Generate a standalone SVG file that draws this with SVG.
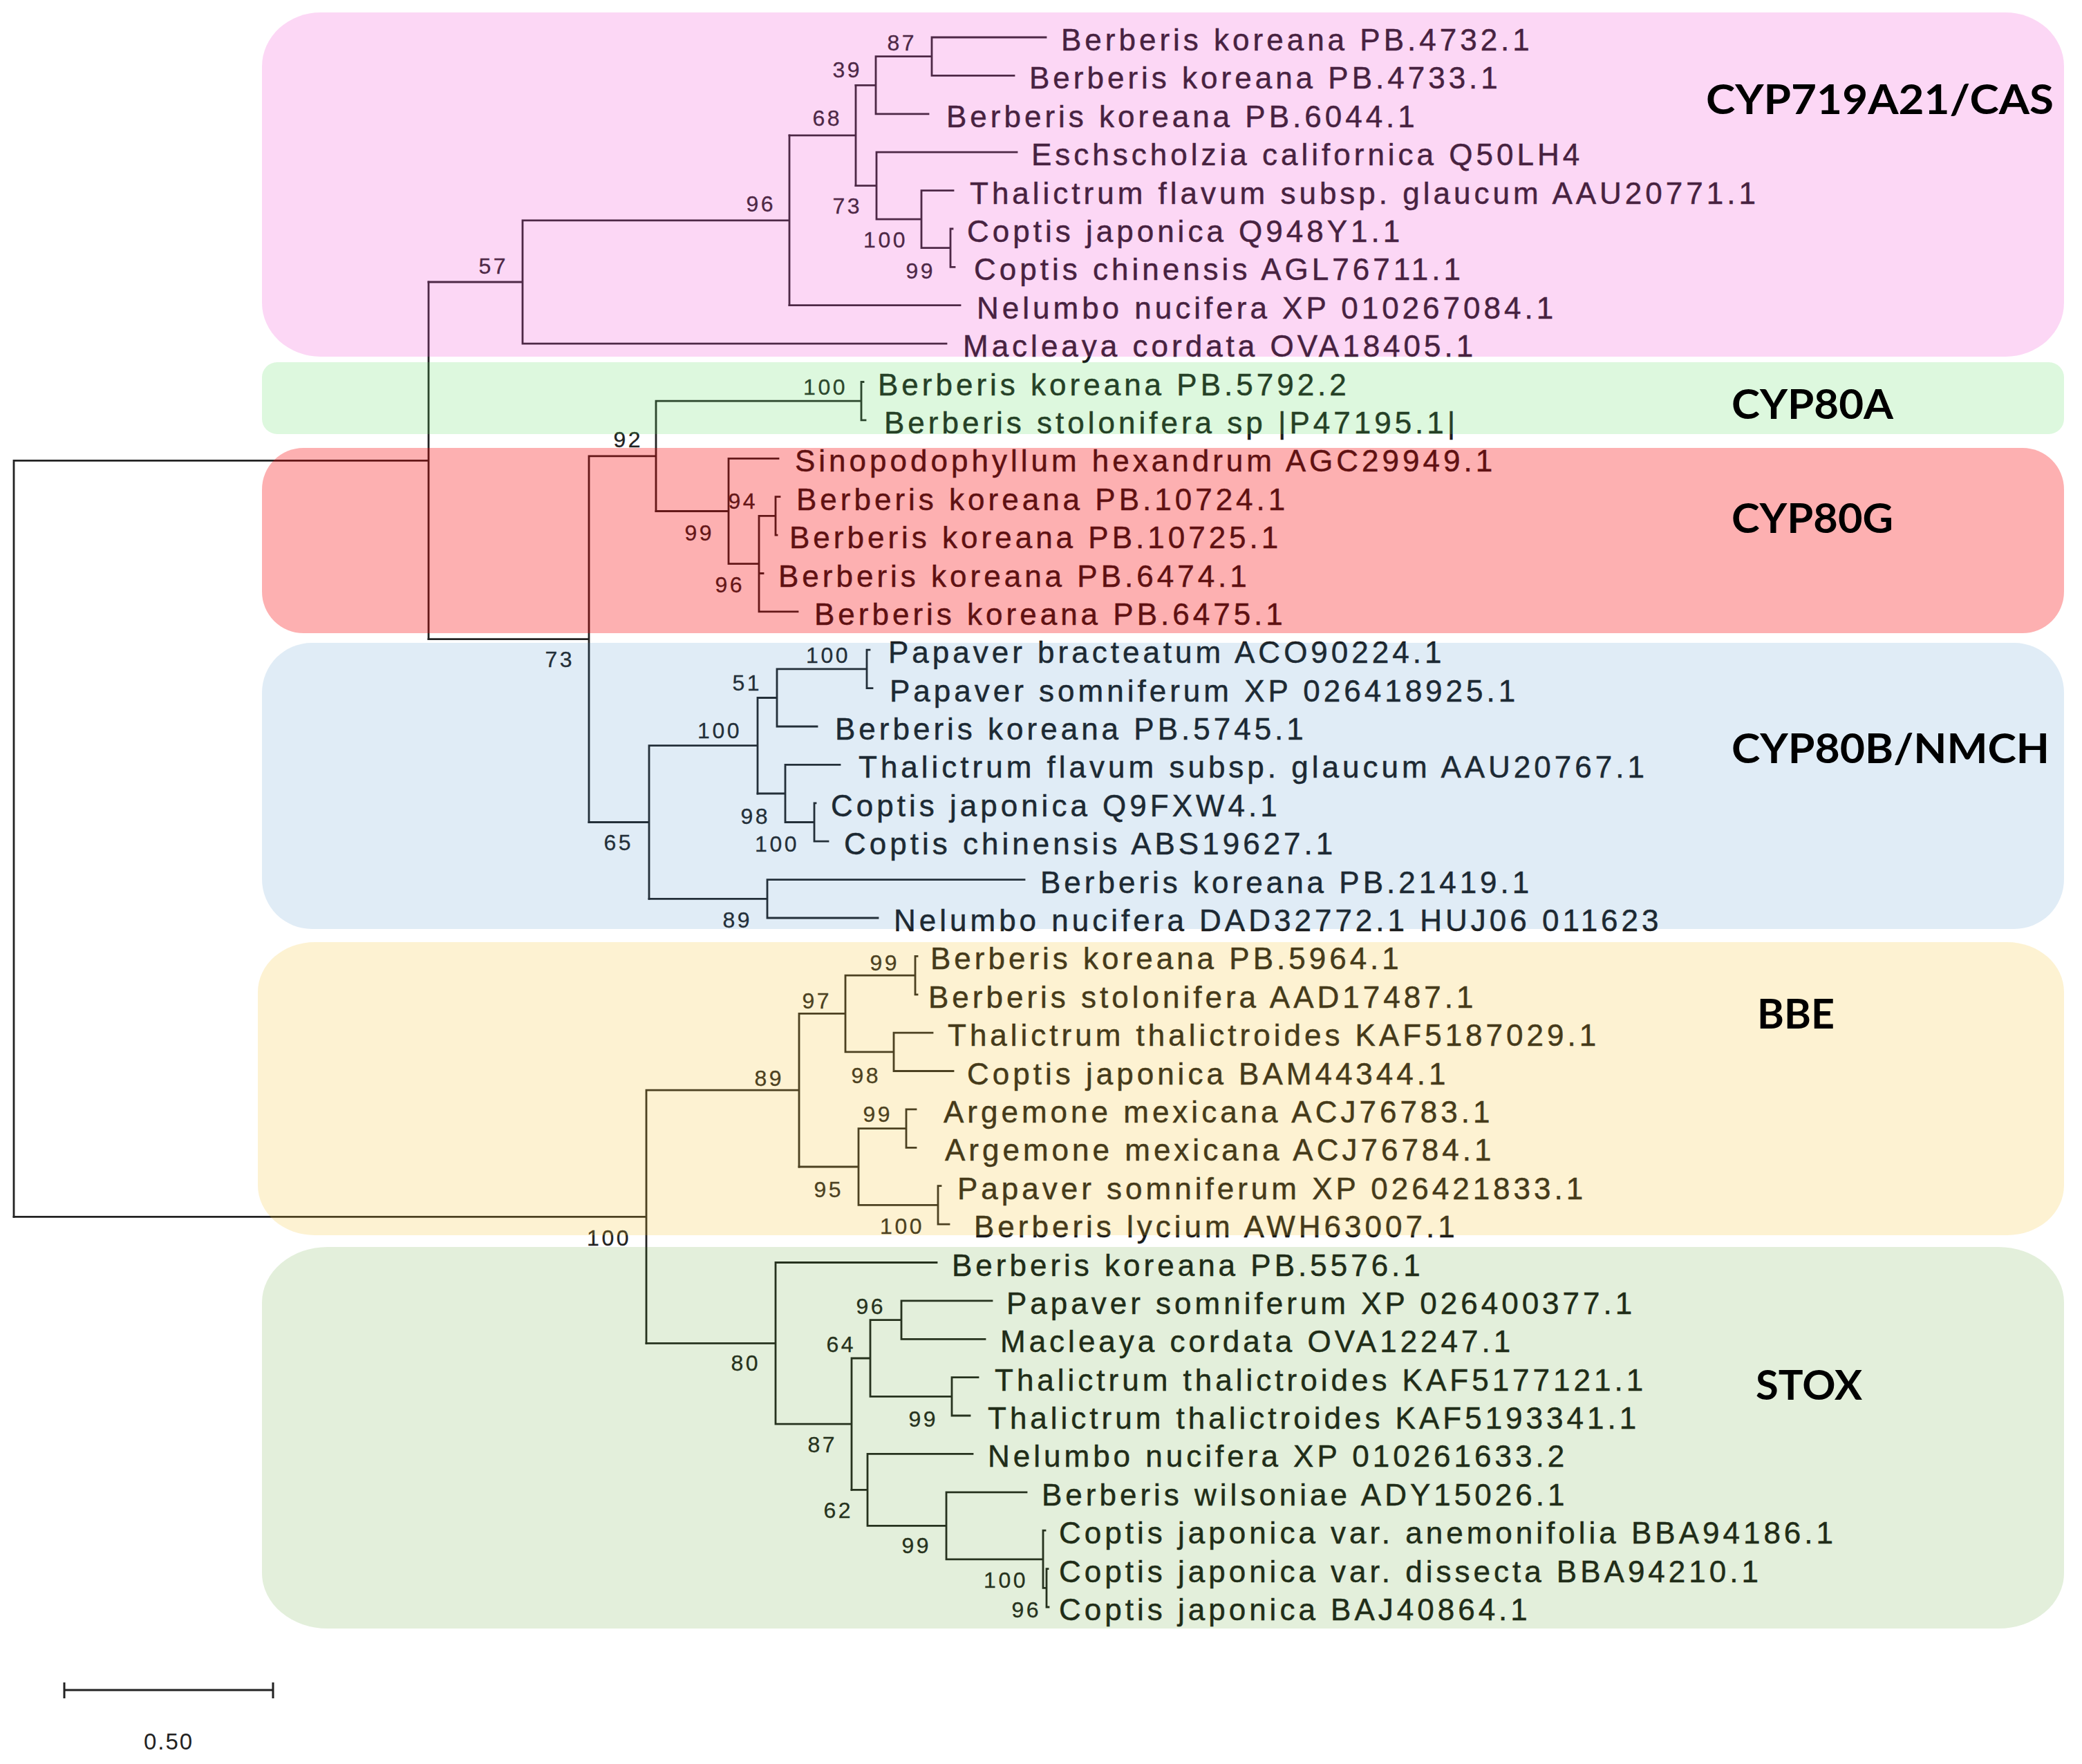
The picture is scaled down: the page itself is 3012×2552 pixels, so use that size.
<svg xmlns="http://www.w3.org/2000/svg" width="3012" height="2552" viewBox="0 0 3012 2552">
<style>
.br{fill:none;stroke:#222;stroke-width:2.8;stroke-linecap:square}
.tx{font-family:"Liberation Sans",Arial,sans-serif;font-size:44px;letter-spacing:5px;fill:#1a1a1a;stroke:#1a1a1a;stroke-width:0.5}
.bs{font-family:"Liberation Sans",Arial,sans-serif;font-size:32px;letter-spacing:3.5px;fill:#222;text-anchor:end;stroke:#222;stroke-width:0.3}
.grp{font-family:Lato,"Liberation Sans",sans-serif;font-weight:700;font-size:60px;fill:#000}
.cas{fill:rgb(241,65,207);fill-opacity:0.21}
.c80a{fill:rgb(85,220,90);fill-opacity:0.2}
.c80g{fill:rgb(250,0,3);fill-opacity:0.31}
.c80b{fill:rgb(48,128,195);fill-opacity:0.15}
.bbe{fill:rgb(245,190,30);fill-opacity:0.2}
.stox{fill:rgb(68,148,15);fill-opacity:0.15}
.sc{fill:none;stroke:#222;stroke-width:3}
.sct{font-family:"Liberation Sans",Arial,sans-serif;font-size:33px;letter-spacing:2px;fill:#222;text-anchor:middle}
</style>
<rect width="3012" height="2552" fill="#fff"/>
<g id="connectors" class="br">
<path d="M20 666.3V1760.3M20 666.3H620M620 408V924.6"/>
<path d="M620 408H756M756 318.8V497.1M756 318.8H1142M1142 195.8V441.7M756 497.1H1369"/>
<path d="M1142 195.8H1238M1238 123.3V268.6M1142 441.7H1389"/>
<path d="M1238 123.3H1267M1267 81.7V164.8M1267 81.7H1348M1348 54V109.4M1348 54H1513M1348 109.4H1467M1267 164.8H1343"/>
<path d="M1238 268.6H1268M1268 220.2V317.2M1268 220.2H1471M1268 317.2H1333M1333 275.6V358.7M1333 275.6H1379M1333 358.7H1375M1375 331V386.3M1375 331H1378M1375 386.3H1381"/>
<path d="M620 924.6H852M852 659.8V1189.5M852 659.8H949M949 580.2V739.5M949 580.2H1246M1246 552.5V607.9M1246 552.5H1249M1246 607.9H1252"/>
<path d="M949 739.5H1054M1054 663.3V815.6M1054 663.3H1126M1054 815.6H1098M1098 746.4V884.9M1098 746.4H1122M1122 718.7V774.1M1122 718.7H1128M1122 774.1H1124M1098 829.5H1104M1098 884.9H1154"/>
<path d="M852 1189.5H939M939 1078.7V1300.3M939 1078.7H1096M1096 1009.5V1148M1096 1009.5H1124M1124 967.9V1051M1124 967.9H1254M1254 940.2V995.6M1254 940.2H1258M1254 995.6H1262M1124 1051H1182"/>
<path d="M1096 1148H1136M1136 1106.4V1189.5M1136 1106.4H1215M1136 1189.5H1178M1178 1161.8V1217.2M1178 1161.8H1180M1178 1217.2H1198"/>
<path d="M939 1300.3H1110M1110 1272.6V1328M1110 1272.6H1482M1110 1328H1270"/>
<path d="M20 1760.3H935M935 1577.2V1943.4M935 1577.2H1156M1156 1466.4V1688M1156 1466.4H1223M1223 1411.1V1521.8M1223 1411.1H1324M1324 1383.4V1438.8M1324 1383.4H1327M1324 1438.8H1327M1223 1521.8H1293M1293 1494.1V1549.5M1293 1494.1H1349M1293 1549.5H1379"/>
<path d="M1156 1688H1242M1242 1632.6V1743.4M1242 1632.6H1311M1311 1604.9V1660.3M1311 1604.9H1325M1311 1660.3H1325M1242 1743.4H1357M1357 1715.7V1771.1M1357 1715.7H1361M1357 1771.1H1373"/>
<path d="M935 1943.4H1122M1122 1826.5V2060.2M1122 1826.5H1355M1122 2060.2H1232M1232 1965V2155.4M1232 1965H1259M1259 1909.6V2020.4M1259 1909.6H1304M1304 1881.9V1937.3M1304 1881.9H1435M1304 1937.3H1425M1259 2020.4H1377M1377 1992.7V2048M1377 1992.7H1415M1377 2048H1403"/>
<path d="M1232 2155.4H1255M1255 2103.4V2207.3M1255 2103.4H1407M1255 2207.3H1369M1369 2158.8V2255.8M1369 2158.8H1485M1369 2255.8H1509M1509 2214.2V2297.3M1509 2214.2H1512M1509 2297.3H1514M1514 2269.6V2325M1514 2269.6H1516M1514 2325H1517"/>
</g>
<g id="taxa" class="tx">
<g id="leaf-01"><text x="1535" y="73">Berberis koreana PB.4732.1</text></g>
<g id="leaf-02"><text x="1489" y="128.4">Berberis koreana PB.4733.1</text></g>
<g id="leaf-03"><text x="1369" y="183.8">Berberis koreana PB.6044.1</text></g>
<g id="leaf-04"><text x="1492" y="239.2">Eschscholzia californica Q50LH4</text></g>
<g id="leaf-05"><text x="1403" y="294.6">Thalictrum flavum subsp. glaucum AAU20771.1</text></g>
<g id="leaf-06"><text x="1399" y="350">Coptis japonica Q948Y1.1</text></g>
<g id="leaf-07"><text x="1409" y="405.3">Coptis chinensis AGL76711.1</text></g>
<g id="leaf-08"><text x="1413" y="460.7">Nelumbo nucifera XP 010267084.1</text></g>
<g id="leaf-09"><text x="1393" y="516.1">Macleaya cordata OVA18405.1</text></g>
<g id="leaf-10"><text x="1270" y="571.5">Berberis koreana PB.5792.2</text></g>
<g id="leaf-11"><text x="1279" y="626.9">Berberis stolonifera sp |P47195.1|</text></g>
<g id="leaf-12"><text x="1150" y="682.3">Sinopodophyllum hexandrum AGC29949.1</text></g>
<g id="leaf-13"><text x="1152" y="737.7">Berberis koreana PB.10724.1</text></g>
<g id="leaf-14"><text x="1142" y="793.1">Berberis koreana PB.10725.1</text></g>
<g id="leaf-15"><text x="1126" y="848.5">Berberis koreana PB.6474.1</text></g>
<g id="leaf-16"><text x="1178" y="903.9">Berberis koreana PB.6475.1</text></g>
<g id="leaf-17"><text x="1285" y="959.2">Papaver bracteatum ACO90224.1</text></g>
<g id="leaf-18"><text x="1287" y="1014.6">Papaver somniferum XP 026418925.1</text></g>
<g id="leaf-19"><text x="1208" y="1070">Berberis koreana PB.5745.1</text></g>
<g id="leaf-20"><text x="1242" y="1125.4">Thalictrum flavum subsp. glaucum AAU20767.1</text></g>
<g id="leaf-21"><text x="1202" y="1180.8">Coptis japonica Q9FXW4.1</text></g>
<g id="leaf-22"><text x="1221" y="1236.2">Coptis chinensis ABS19627.1</text></g>
<g id="leaf-23"><text x="1505" y="1291.6">Berberis koreana PB.21419.1</text></g>
<g id="leaf-24"><text x="1293" y="1347">Nelumbo nucifera DAD32772.1 HUJ06 011623</text></g>
<g id="leaf-25"><text x="1346" y="1402.4">Berberis koreana PB.5964.1</text></g>
<g id="leaf-26"><text x="1343" y="1457.8">Berberis stolonifera AAD17487.1</text></g>
<g id="leaf-27"><text x="1371" y="1513.1">Thalictrum thalictroides KAF5187029.1</text></g>
<g id="leaf-28"><text x="1399" y="1568.5">Coptis japonica BAM44344.1</text></g>
<g id="leaf-29"><text x="1365" y="1623.9">Argemone mexicana ACJ76783.1</text></g>
<g id="leaf-30"><text x="1367" y="1679.3">Argemone mexicana ACJ76784.1</text></g>
<g id="leaf-31"><text x="1385" y="1734.7">Papaver somniferum XP 026421833.1</text></g>
<g id="leaf-32"><text x="1409" y="1790.1">Berberis lycium AWH63007.1</text></g>
<g id="leaf-33"><text x="1377" y="1845.5">Berberis koreana PB.5576.1</text></g>
<g id="leaf-34"><text x="1456" y="1900.9">Papaver somniferum XP 026400377.1</text></g>
<g id="leaf-35"><text x="1447" y="1956.3">Macleaya cordata OVA12247.1</text></g>
<g id="leaf-36"><text x="1439" y="2011.7">Thalictrum thalictroides KAF5177121.1</text></g>
<g id="leaf-37"><text x="1429" y="2067">Thalictrum thalictroides KAF5193341.1</text></g>
<g id="leaf-38"><text x="1429" y="2122.4">Nelumbo nucifera XP 010261633.2</text></g>
<g id="leaf-39"><text x="1507" y="2177.8">Berberis wilsoniae ADY15026.1</text></g>
<g id="leaf-40"><text x="1532" y="2233.2">Coptis japonica var. anemonifolia BBA94186.1</text></g>
<g id="leaf-41"><text x="1532" y="2288.6">Coptis japonica var. dissecta BBA94210.1</text></g>
<g id="leaf-42"><text x="1532" y="2344">Coptis japonica BAJ40864.1</text></g>
</g>
<g id="bootstrap" class="bs">
<text x="1326" y="73">87</text>
<text x="1247" y="112">39</text>
<text x="1218" y="182">68</text>
<text x="1122" y="306">96</text>
<text x="1247" y="309">73</text>
<text x="1313" y="358">100</text>
<text x="1353" y="403">99</text>
<text x="735" y="396">57</text>
<text x="1226" y="571">100</text>
<text x="930" y="647">92</text>
<text x="1096" y="736">94</text>
<text x="1033" y="782">99</text>
<text x="1077" y="857">96</text>
<text x="831" y="965">73</text>
<text x="1230" y="959">100</text>
<text x="1102" y="999">51</text>
<text x="1073" y="1068">100</text>
<text x="1114" y="1192">98</text>
<text x="1156" y="1232">100</text>
<text x="916" y="1230">65</text>
<text x="1088" y="1342">89</text>
<text x="1301" y="1404">99</text>
<text x="1203" y="1459">97</text>
<text x="1274" y="1567">98</text>
<text x="1134" y="1571">89</text>
<text x="1291" y="1623">99</text>
<text x="1220" y="1732">95</text>
<text x="1337" y="1785">100</text>
<text x="913" y="1802">100</text>
<text x="1281" y="1901">96</text>
<text x="1238" y="1956">64</text>
<text x="1100" y="1983">80</text>
<text x="1357" y="2064">99</text>
<text x="1211" y="2101">87</text>
<text x="1234" y="2196">62</text>
<text x="1347" y="2247">99</text>
<text x="1487" y="2297">100</text>
<text x="1506" y="2340">96</text>
</g>
<g id="clade-CAS"><rect class="cas" x="379" y="18" width="2607" height="498" rx="85" ry="78"/><text class="grp" x="2468" y="164.5" textLength="503" lengthAdjust="spacingAndGlyphs">CYP719A21/CAS</text></g>
<g id="clade-CYP80A"><rect class="c80a" x="379" y="524" width="2607" height="104" rx="22" ry="22"/><text class="grp" x="2505" y="606" textLength="234" lengthAdjust="spacingAndGlyphs">CYP80A</text></g>
<g id="clade-CYP80G"><rect class="c80g" x="379" y="648" width="2607" height="268" rx="60" ry="60"/><text class="grp" x="2505" y="771" textLength="234" lengthAdjust="spacingAndGlyphs">CYP80G</text></g>
<g id="clade-CYP80B"><rect class="c80b" x="379" y="930" width="2607" height="414" rx="72" ry="72"/><text class="grp" x="2505" y="1104" textLength="460" lengthAdjust="spacingAndGlyphs">CYP80B/NMCH</text></g>
<g id="clade-BBE"><rect class="bbe" x="373" y="1363" width="2613" height="424" rx="82" ry="72"/><text class="grp" x="2542" y="1488" textLength="112" lengthAdjust="spacingAndGlyphs">BBE</text></g>
<g id="clade-STOX"><rect class="stox" x="379" y="1804" width="2607" height="552" rx="95" ry="80"/><text class="grp" x="2540" y="2025" textLength="154" lengthAdjust="spacingAndGlyphs">STOX</text></g>
<g id="scale-bar">
<path class="sc" d="M93 2445H395M93 2434V2457M395 2434V2457"/>
<text class="sct" x="244" y="2531">0.50</text>
</g>
</svg>
